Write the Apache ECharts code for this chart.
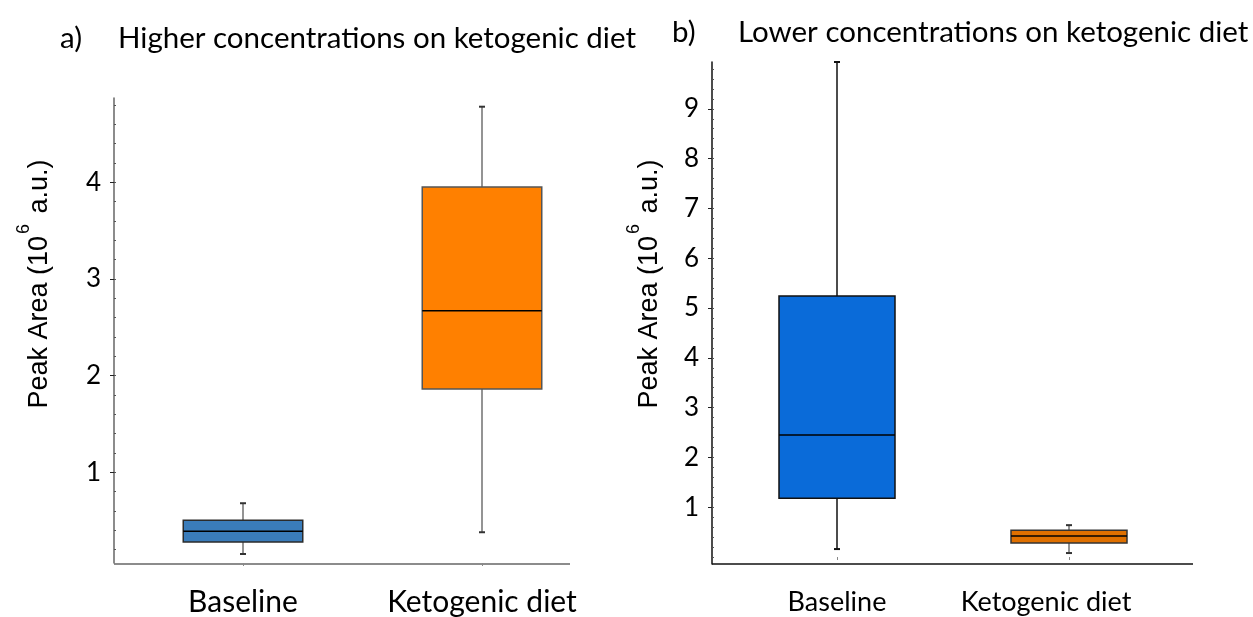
<!DOCTYPE html>
<html>
<head>
<meta charset="utf-8">
<script src="https://cdn.jsdelivr.net/npm/echarts@6/dist/echarts.min.js"></script>
<style>
  html, body { margin: 0; padding: 0; background: #fff; }
  #chart { width: 1253px; height: 617px; }
</style>
</head>
<body>
<div id="chart"></div>
<script>
// Groups on the category axis
const categories = ['Baseline', 'Ketogenic diet'];

// Box statistics per group: [lower whisker, Q1, median, Q3, upper whisker], in 10^6 a.u.
const higherStats = [
  [0.155, 0.28, 0.39, 0.505, 0.68],
  [0.38, 1.86, 2.67, 3.95, 4.78]
];
const lowerStats = [
  [0.16, 1.18, 2.45, 5.24, 9.94],
  [0.08, 0.28, 0.42, 0.54, 0.64]
];

// Tick labels of the two value axes
const higherTicks = [1, 2, 3, 4];
const lowerTicks = [1, 2, 3, 4, 5, 6, 7, 8, 9];

const panelTitles = ['Higher concentrations on ketogenic diet', 'Lower concentrations on ketogenic diet'];

// Box styling per panel and group
const styles = [
  [
    { fill: '#3a7cba', border: '#2b2b2b', whisker: '#707070', cap: '#333' },
    { fill: '#ff8000', border: '#555', whisker: '#707070', cap: '#333' }
  ],
  [
    { fill: '#0a6bd9', border: '#111', whisker: '#111', cap: '#111' },
    { fill: '#df7000', border: '#333', whisker: '#707070', cap: '#333' }
  ]
];

function minorSteps(lo, hi, step) {
  const out = [];
  for (let v = Math.ceil(lo / step) * step; v <= hi + 1e-9; v += step) out.push(+v.toFixed(4));
  return out;
}

function boxRenderer(panel) {
  return function (params, api) {
    const idx = api.value(0);
    const st = styles[panel][idx];
    const x = api.coord([idx, api.value(3)])[0];
    const y = i => api.coord([idx, api.value(i)])[1];
    const yLow = y(1), yQ1 = y(2), yMed = y(3), yQ3 = y(4), yHigh = y(5);
    const half = api.size([1, 0])[0] * 0.25;
    const cap = 3;
    return {
      type: 'group',
      children: [
        { type: 'line', shape: { x1: x, y1: yHigh, x2: x, y2: yQ3 }, style: { stroke: st.whisker, lineWidth: 1.5 } },
        { type: 'line', shape: { x1: x, y1: yQ1, x2: x, y2: yLow }, style: { stroke: st.whisker, lineWidth: 1.5 } },
        { type: 'line', shape: { x1: x - cap, y1: yHigh, x2: x + cap, y2: yHigh }, style: { stroke: st.cap, lineWidth: 2 } },
        { type: 'line', shape: { x1: x - cap, y1: yLow, x2: x + cap, y2: yLow }, style: { stroke: st.cap, lineWidth: 2 } },
        { type: 'rect', shape: { x: x - half, y: yQ3, width: half * 2, height: yQ1 - yQ3 }, style: { fill: st.fill, stroke: st.border, lineWidth: 1.5 } },
        { type: 'line', shape: { x1: x - half, y1: yMed, x2: x + half, y2: yMed }, style: { stroke: '#000', lineWidth: 1.5 } }
      ]
    };
  };
}

const labelFont = 'Lato, "Open Sans", sans-serif';
const nameFont = '"Liberation Sans", Arial, sans-serif';

const panels = [
  { grid: { left: 123.5, top: 98, width: 478, height: 466 }, offset: 9.5, min: 0.062, max: 4.87, ticks: higherTicks, stats: higherStats, axisColor: '#666', catSize: 30, catMargin: 24 },
  { grid: { left: 721, top: 62, width: 464, height: 502 }, offset: 9, min: -0.14, max: 9.94, ticks: lowerTicks, stats: lowerStats, axisColor: '#111', catSize: 27, catMargin: 25 }
];

const option = {
  animation: false,
  backgroundColor: '#fff',
  grid: panels.map(p => p.grid),
  xAxis: panels.map((p, i) => ({
    type: 'category',
    gridIndex: i,
    data: categories,
    boundaryGap: true,
    axisLine: { show: false },
    axisTick: { show: true, alignWithLabel: true, length: 3, lineStyle: { color: '#888' } },
    axisLabel: {
      interval: 0,
      hideOverlap: false,
      margin: p.catMargin,
      color: '#000',
      fontFamily: labelFont,
      fontSize: p.catSize,
      formatter: (v, k) => (i === 1 && k === 1) ? '{k|' + v + '}' : v,
      rich: { k: { fontFamily: labelFont, fontSize: p.catSize, color: '#000', padding: [0, 46, 0, 0] } }
    }
  })),
  yAxis: [].concat(...panels.map((p, i) => [
    {
      type: 'value',
      gridIndex: i,
      position: 'left',
      min: p.min,
      max: p.max,
      offset: p.offset,
      splitLine: { show: false },
      axisLine: { show: true, lineStyle: { color: p.axisColor, width: 1.5 } },
      axisTick: { show: true, length: 4, customValues: p.ticks, lineStyle: { color: '#222' } },
      axisLabel: { customValues: p.ticks, margin: 13, color: '#000', fontFamily: labelFont, fontSize: 26 }
    },
    {
      type: 'value',
      gridIndex: i,
      position: 'left',
      min: p.min,
      max: p.max,
      offset: p.offset,
      splitLine: { show: false },
      axisLine: { show: false },
      axisTick: { show: true, inside: true, length: 2, customValues: minorSteps(p.min, p.max, 0.2), lineStyle: { color: '#555' } },
      axisLabel: { show: false }
    }
  ])),
  series: panels.map((p, i) => ({
    type: 'custom',
    xAxisIndex: i,
    yAxisIndex: i * 2,
    renderItem: boxRenderer(i),
    encode: { x: 0, y: [1, 2, 3, 4, 5] },
    data: p.stats.map((s, k) => [k].concat(s))
  })),
  graphic: [
    // x-axis baselines
    { type: 'line', shape: { x1: 114, y1: 564, x2: 570, y2: 564 }, style: { stroke: '#666', lineWidth: 1.5 } },
    { type: 'line', shape: { x1: 712, y1: 564, x2: 1193, y2: 564 }, style: { stroke: '#111', lineWidth: 1.5 } },
    // panel titles
    { type: 'text', x: 60, y: 38, style: { text: 'a)', font: '29.5px ' + labelFont, fill: '#000', textVerticalAlign: 'middle' } },
    { type: 'text', x: 118, y: 38, style: { text: panelTitles[0], font: '29.5px ' + labelFont, fill: '#000', textVerticalAlign: 'middle' } },
    { type: 'text', x: 672, y: 32, style: { text: 'b)', font: '29.5px ' + labelFont, fill: '#000', textVerticalAlign: 'middle' } },
    { type: 'text', x: 738, y: 32, style: { text: panelTitles[1], font: '29.5px ' + labelFont, fill: '#000', textVerticalAlign: 'middle' } },
    // value-axis names
    ...[[34, 284], [644, 284]].map(([cx, cy]) => ({
      type: 'text', x: cx, y: cy, rotation: Math.PI / 2,
      style: {
        text: '{n|Peak Area (10}{s|6}{n| a.u.)}',
        align: 'center', verticalAlign: 'middle',
        rich: {
          n: { fontFamily: nameFont, fontSize: 27, fill: '#000', lineHeight: 38, verticalAlign: 'bottom' },
          s: { fontFamily: nameFont, fontSize: 18, fill: '#000', lineHeight: 38, verticalAlign: 'top', padding: [0, 3, 0, 2] }
        }
      }
    }))
  ]
};

const chart = echarts.init(document.getElementById('chart'), null, { renderer: 'canvas' });
chart.setOption(option);
</script>
</body>
</html>
